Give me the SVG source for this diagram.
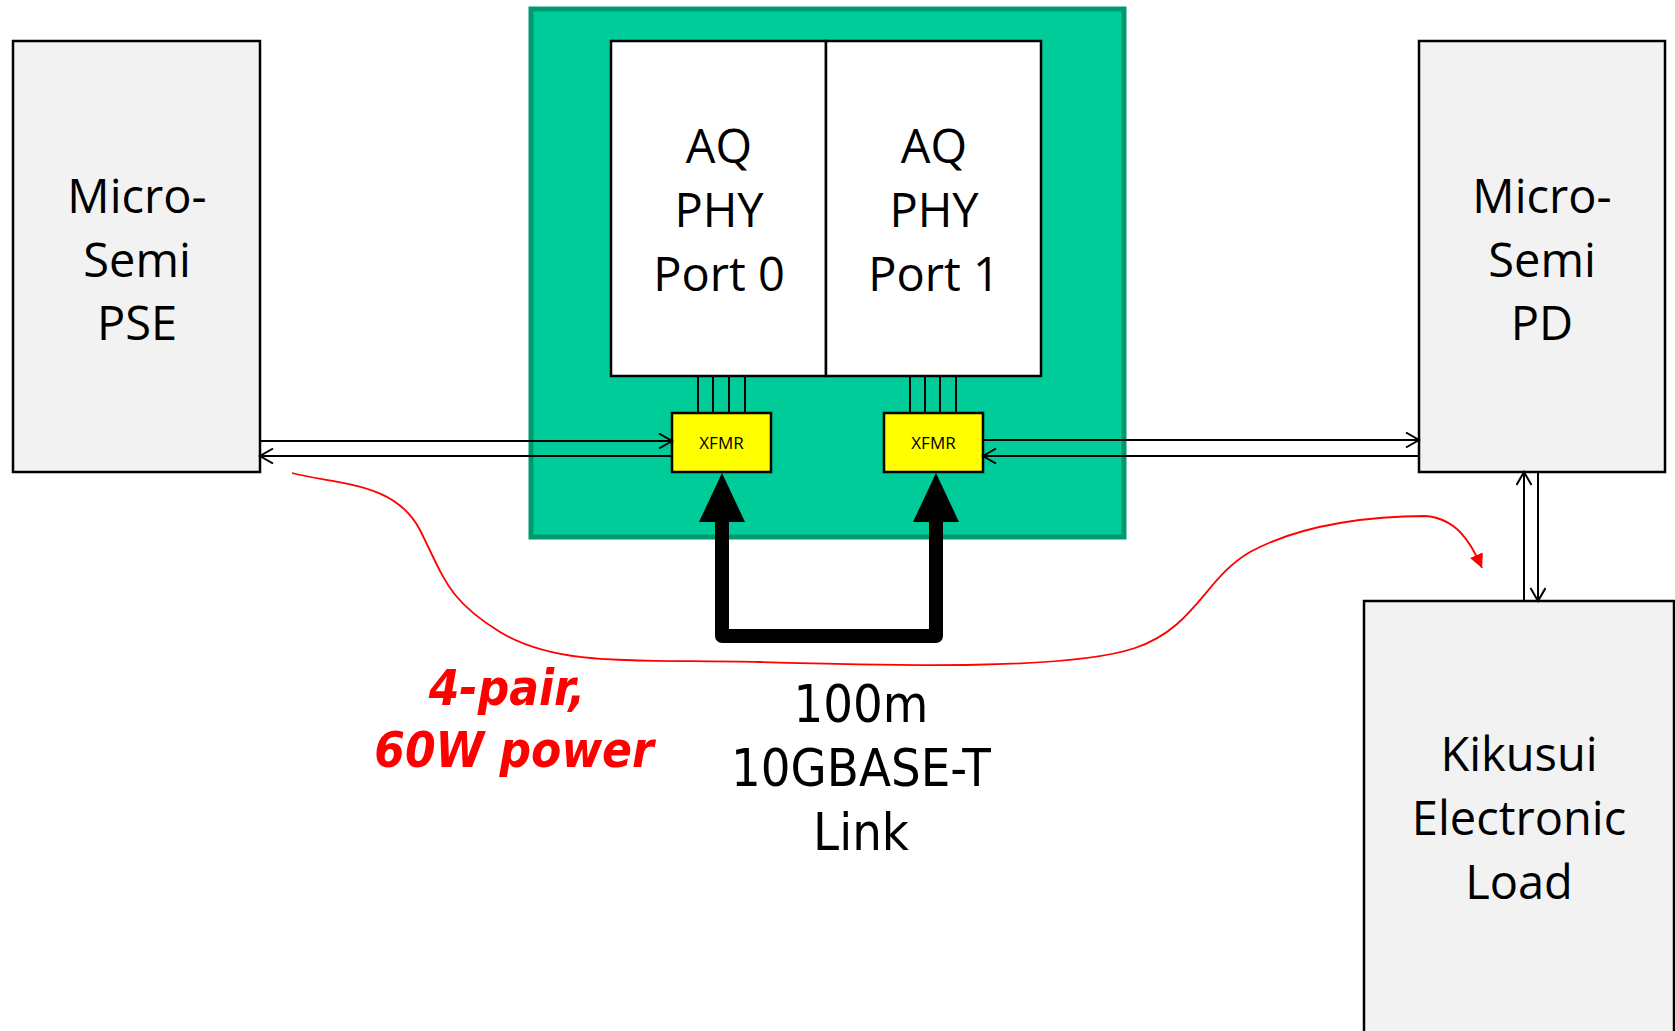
<svg xmlns="http://www.w3.org/2000/svg" width="1675" height="1031" viewBox="0 0 1675 1031">
<style>
.box{fill:#F2F2F2;stroke:#000;stroke-width:2.5}
.lbl{font-family:"Open Sans","DejaVu Sans",sans-serif;font-size:47px;fill:#000;text-anchor:middle}
.ln{stroke:#000;stroke-width:2;fill:none}
.link{font-family:"DejaVu Sans Condensed","DejaVu Sans",sans-serif;font-size:52px;fill:#000;text-anchor:middle}
.pwr{font-family:"DejaVu Sans Condensed","DejaVu Sans",sans-serif;font-size:49px;font-weight:bold;font-style:italic;fill:#FF0000;text-anchor:middle}
.x{font-family:"Open Sans","DejaVu Sans",sans-serif;font-size:17px;fill:#000;text-anchor:middle}
</style>
<defs>
<marker id="oa" markerUnits="userSpaceOnUse" markerWidth="20" markerHeight="20" refX="15" refY="8" orient="auto">
<path d="M2,0.5 L15,8 L2,15.5" fill="none" stroke="#000" stroke-width="2"/>
</marker>
<marker id="ra" markerUnits="userSpaceOnUse" markerWidth="20" markerHeight="20" refX="14" refY="7" orient="auto">
<path d="M0,0 L14,7 L0,14 Z" fill="#FF0000"/>
</marker>
</defs>
<rect width="1675" height="1031" fill="#fff"/>

<g id="board">
<rect x="531" y="9" width="593" height="528" fill="#00CC99" stroke="#009970" stroke-width="5"/>
</g>

<g id="pse">
<rect class="box" x="13" y="41" width="247" height="431"/>
<text class="lbl" x="137" y="213">Micro-</text>
<text class="lbl" x="137" y="277">Semi</text>
<text class="lbl" x="137" y="340">PSE</text>
</g>

<g id="phy0">
<rect x="611" y="41" width="215" height="335" fill="#fff" stroke="#000" stroke-width="2.5"/>
<text class="lbl" x="719" y="163">AQ</text>
<text class="lbl" x="719" y="227">PHY</text>
<text class="lbl" x="719" y="291">Port 0</text>
</g>
<g id="phy1">
<rect x="826" y="41" width="215" height="335" fill="#fff" stroke="#000" stroke-width="2.5"/>
<text class="lbl" x="934" y="163">AQ</text>
<text class="lbl" x="934" y="227">PHY</text>
<text class="lbl" x="934" y="291">Port 1</text>
</g>

<g id="xfmr0">
<rect x="672" y="413" width="99" height="59" fill="#FFFF00" stroke="#000" stroke-width="2.5"/>
<text class="x" x="721.5" y="449">XFMR</text>
</g>
<g id="xfmr1">
<rect x="884" y="413" width="99" height="59" fill="#FFFF00" stroke="#000" stroke-width="2.5"/>
<text class="x" x="933.5" y="449">XFMR</text>
</g>

<g id="pd">
<rect class="box" x="1419" y="41" width="246" height="431"/>
<text class="lbl" x="1542" y="213">Micro-</text>
<text class="lbl" x="1542" y="277">Semi</text>
<text class="lbl" x="1542" y="340">PD</text>
</g>

<g id="load">
<rect class="box" x="1364" y="601" width="310" height="440"/>
<text class="lbl" x="1519" y="771">Kikusui</text>
<text class="lbl" x="1519" y="835">Electronic</text>
<text class="lbl" x="1519" y="899">Load</text>
</g>

<g id="connectors">
<g class="ln">
<line x1="698" y1="376" x2="698" y2="413"/>
<line x1="713" y1="376" x2="713" y2="413"/>
<line x1="729" y1="376" x2="729" y2="413"/>
<line x1="745" y1="376" x2="745" y2="413"/>
<line x1="910" y1="376" x2="910" y2="413"/>
<line x1="925" y1="376" x2="925" y2="413"/>
<line x1="940" y1="376" x2="940" y2="413"/>
<line x1="956" y1="376" x2="956" y2="413"/>
</g>
<line class="ln" x1="260" y1="441" x2="672" y2="441" marker-end="url(#oa)"/>
<line class="ln" x1="672" y1="456" x2="260" y2="456" marker-end="url(#oa)"/>
<line class="ln" x1="983" y1="440" x2="1419" y2="440" marker-end="url(#oa)"/>
<line class="ln" x1="1419" y1="456" x2="983" y2="456" marker-end="url(#oa)"/>
<line class="ln" x1="1524" y1="601" x2="1524" y2="472" marker-end="url(#oa)"/>
<line class="ln" x1="1538" y1="472" x2="1538" y2="601" marker-end="url(#oa)"/>
<path d="M722,520 L722,636 L936,636 L936,520" fill="none" stroke="#000" stroke-width="14" stroke-linejoin="round"/>
<path d="M722,473 L699,522 L745,522 Z" fill="#000"/>
<path d="M936,473 L913,522 L959,522 Z" fill="#000"/>
<path d="M292,473 C340,485 395,482 420,530 C445,580 448,600 500,632 C560,668 640,659 760,662 C900,666 1070,670 1135,648 C1195,628 1205,578 1250,552 C1305,522 1380,516 1425,516 C1455,518 1470,540 1482,568" fill="none" stroke="#FF0000" stroke-width="1.8" marker-end="url(#ra)"/>
</g>

<g id="labels">
<text class="pwr" x="507" y="705">4-pair,</text>
<text class="pwr" x="514" y="767">60W power</text>
<text class="link" x="861" y="722">100m</text>
<text class="link" x="861" y="786">10GBASE-T</text>
<text class="link" x="861" y="850">Link</text>
</g>
</svg>
